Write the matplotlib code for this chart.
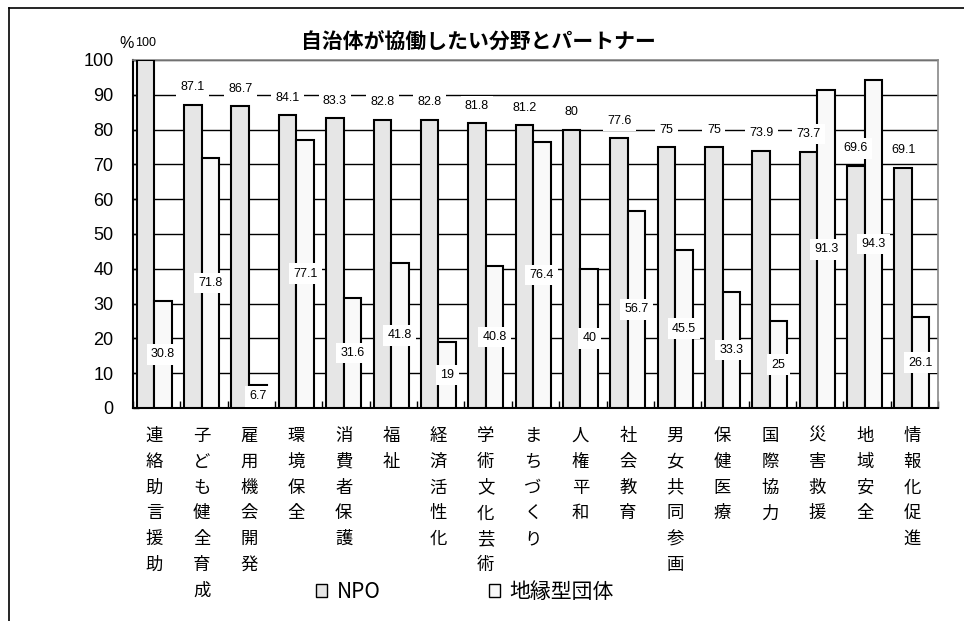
import matplotlib
matplotlib.use("Agg")
import matplotlib.pyplot as plt
import numpy as np
from matplotlib.patches import Patch
from matplotlib.lines import Line2D

categories = ["連絡助言援助", "子ども健全育成", "雇用機会開発", "環境保全", "消費者保護", "福祉",
              "経済活性化", "学術文化芸術", "まちづくり", "人権平和", "社会教育", "男女共同参画",
              "保健医療", "国際協力", "災害救援", "地域安全", "情報化促進"]
npo = [100, 87.1, 86.7, 84.1, 83.3, 82.8, 82.8, 81.8, 81.2, 80, 77.6, 75, 75, 73.9, 73.7, 69.6, 69.1]
chien = [30.8, 71.8, 6.7, 77.1, 31.6, 41.8, 19, 40.8, 76.4, 40, 56.7, 45.5, 33.3, 25, 91.3, 94.3, 26.1]
npo_labels = ["100", "87.1", "86.7", "84.1", "83.3", "82.8", "82.8", "81.8", "81.2", "80", "77.6",
              "75", "75", "73.9", "73.7", "69.6", "69.1"]
chien_labels = ["30.8", "71.8", "6.7", "77.1", "31.6", "41.8", "19", "40.8", "76.4", "40", "56.7",
                "45.5", "33.3", "25", "91.3", "94.3", "26.1"]
series_names = ["NPO", "地縁型団体"]
title = "自治体が協働したい分野とパートナー"
yticks = list(range(0, 101, 10))

JP = ["Noto Sans CJK JP", "DejaVu Sans"]
NUM = ["Liberation Sans", "DejaVu Sans"]

fig = plt.figure(figsize=(9.64, 6.21), dpi=100)
ax = fig.add_axes([133/964, 1-408/621, (938-133)/964, (408-60)/621])

n = len(categories)
x = np.arange(n)
w = 0.37
grey = "#e6e6e6"
white = "#f9f9f9"
ax.bar(x - w/2 - 0.05, npo, width=w, color=grey, edgecolor="black", linewidth=1.5, zorder=3)
ax.bar(x + w/2 - 0.05, chien, width=w, color=white, edgecolor="black", linewidth=1.5, zorder=3)

ax.set_xlim(-0.5, n - 0.5)
ax.set_ylim(0, 100)
ax.set_yticks(yticks)
ax.set_yticklabels([str(t) for t in yticks], family=NUM, fontsize=13)
ax.yaxis.grid(True, color="black", linewidth=1.0, zorder=0)
ax.set_axisbelow(True)
ax.tick_params(axis="y", direction="in", length=4, pad=14, width=1)
ax.set_xticks(np.arange(n + 1) - 0.5)
ax.set_xticklabels([])
ax.tick_params(axis="x", direction="in", length=5, width=1)
for s in ["top", "right"]:
    ax.spines[s].set_color("#888888")
    ax.spines[s].set_linewidth(1.2)
for s in ["left", "bottom"]:
    ax.spines[s].set_color("black")
    ax.spines[s].set_linewidth(1.5)

box = dict(boxstyle="square,pad=0.35", facecolor="white", edgecolor="none")
for i in range(n):
    ax.text(x[i] - w/2 - 0.05, npo[i] + 5, npo_labels[i], ha="center", va="center",
            family=NUM, fontsize=9, bbox=box, zorder=5, clip_on=False)
    ax.text(x[i] + w/2 - 0.05, chien[i] / 2, chien_labels[i], ha="center", va="center",
            family=NUM, fontsize=9, bbox=box, zorder=5)

# unit label
fig.text(127/964, 1-44/621, "%", family=NUM, fontsize=11.5, ha="center", va="center")

# vertical category labels
for i, cat in enumerate(categories):
    for j, ch in enumerate(cat):
        ax.annotate(ch, xy=(x[i] - 0.05, 0), xycoords=("data", "axes fraction"),
                    xytext=(0, -(28 + 25.8 * j) * 0.72), textcoords="offset points",
                    ha="center", va="center", family=JP, fontsize=12.5)

fig.text(478/964, 1-42/621, title, family=JP, fontsize=15, fontweight="bold",
         ha="center", va="center")

handles = [Patch(facecolor=grey, edgecolor="black", linewidth=1),
           Patch(facecolor=white, edgecolor="black", linewidth=1)]
fig.legend(handles, series_names, loc="center", bbox_to_anchor=(465/964, 1-592/621), ncol=2,
           frameon=False, handlelength=0.55, handleheight=0.55, handletextpad=0.45,
           columnspacing=5.2, prop={"family": JP, "size": 15})

# outer frame lines (left and top)
fig.add_artist(Line2D([9/964, 9/964], [0, 1-8/621], color="black", linewidth=1.2))
fig.add_artist(Line2D([9/964, 1], [1-8/621, 1-8/621], color="black", linewidth=1.2))

fig.savefig("out.png", dpi=100)
